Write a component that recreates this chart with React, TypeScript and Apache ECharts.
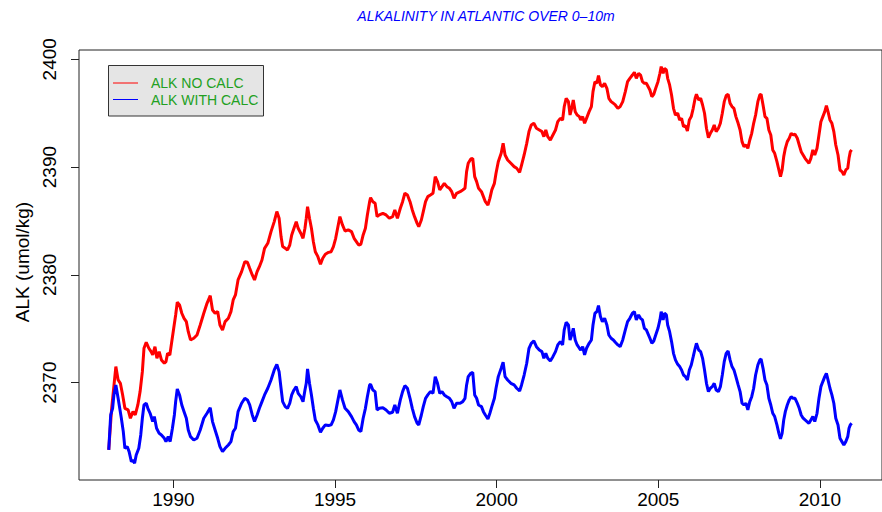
import React, { useEffect, useRef } from "react";
import * as echarts from "echarts";

const TITLE = "ALKALINITY IN ATLANTIC OVER 0–10m";
const Y_NAME = "ALK (umol/kg)";
const LEGEND_LABELS = ["ALK NO CALC", "ALK WITH CALC"];
const X_TICKS = [1990, 1995, 2000, 2005, 2010];
const Y_TICKS = [2370, 2380, 2390, 2400];

// [decimal year, ALK umol/kg]
const alkNoCalc: [number, number][] = [
  [1988.0, 2363.76], [1988.09, 2367.62], [1988.22, 2371.49], [1988.29, 2370.25], [1988.36, 2369.94],
  [1988.43, 2368.86], [1988.5, 2367.62], [1988.6, 2367.47], [1988.67, 2366.7], [1988.75, 2367.31],
  [1988.82, 2367.0], [1988.9, 2367.93], [1988.97, 2369.17], [1989.04, 2371.02], [1989.09, 2373.19],
  [1989.16, 2373.75], [1989.24, 2373.19], [1989.31, 2372.88], [1989.36, 2372.57], [1989.43, 2373.34],
  [1989.49, 2372.26], [1989.56, 2372.88], [1989.63, 2372.11], [1989.72, 2371.8], [1989.77, 2371.95],
  [1989.82, 2372.72], [1989.89, 2372.57], [1989.95, 2373.81], [1990.01, 2375.04], [1990.07, 2376.28],
  [1990.12, 2377.46], [1990.19, 2377.21], [1990.26, 2376.44], [1990.33, 2375.97], [1990.4, 2375.66],
  [1990.46, 2374.73], [1990.53, 2373.96], [1990.63, 2374.12], [1990.73, 2374.42], [1990.83, 2375.35],
  [1990.94, 2376.44], [1991.04, 2377.36], [1991.14, 2378.07], [1991.21, 2376.74], [1991.29, 2376.44],
  [1991.37, 2376.59], [1991.44, 2375.35], [1991.52, 2374.89], [1991.6, 2375.66], [1991.7, 2375.97],
  [1991.78, 2376.59], [1991.85, 2377.67], [1991.92, 2378.14], [1992.0, 2379.53], [1992.11, 2380.3],
  [1992.21, 2381.23], [1992.29, 2381.17], [1992.36, 2380.61], [1992.44, 2379.99], [1992.51, 2379.53],
  [1992.59, 2380.3], [1992.66, 2380.76], [1992.74, 2381.38], [1992.82, 2382.46], [1992.92, 2382.93],
  [1993.02, 2384.01], [1993.12, 2384.94], [1993.2, 2385.87], [1993.27, 2385.25], [1993.33, 2383.55],
  [1993.38, 2382.62], [1993.46, 2382.46], [1993.53, 2382.31], [1993.6, 2382.77], [1993.66, 2383.7],
  [1993.73, 2384.32], [1993.8, 2384.94], [1993.86, 2384.32], [1993.94, 2383.86], [1994.01, 2383.39],
  [1994.07, 2384.32], [1994.11, 2385.25], [1994.15, 2386.33], [1994.21, 2385.25], [1994.27, 2384.32],
  [1994.33, 2383.08], [1994.39, 2382.15], [1994.47, 2381.69], [1994.55, 2380.98], [1994.62, 2381.54],
  [1994.7, 2381.91], [1994.8, 2382.09], [1994.88, 2382.15], [1994.95, 2382.62], [1995.02, 2383.39],
  [1995.08, 2384.32], [1995.15, 2385.4], [1995.23, 2384.63], [1995.31, 2384.07], [1995.41, 2384.17],
  [1995.51, 2384.01], [1995.59, 2383.39], [1995.66, 2383.08], [1995.73, 2382.77], [1995.8, 2382.84],
  [1995.87, 2383.7], [1995.94, 2384.32], [1996.0, 2385.56], [1996.07, 2386.79], [1996.1, 2387.16],
  [1996.17, 2386.79], [1996.24, 2386.64], [1996.3, 2385.4], [1996.37, 2385.56], [1996.48, 2385.71],
  [1996.58, 2385.56], [1996.68, 2385.25], [1996.78, 2385.4], [1996.85, 2386.02], [1996.93, 2385.25],
  [1997.02, 2386.18], [1997.09, 2386.79], [1997.16, 2387.57], [1997.24, 2387.41], [1997.32, 2386.79],
  [1997.39, 2386.02], [1997.46, 2385.4], [1997.54, 2384.78], [1997.59, 2384.47], [1997.67, 2385.09],
  [1997.73, 2385.87], [1997.8, 2386.79], [1997.87, 2387.26], [1997.95, 2387.41], [1998.03, 2387.57],
  [1998.1, 2389.11], [1998.17, 2388.65], [1998.24, 2387.88], [1998.31, 2388.18], [1998.38, 2388.49],
  [1998.46, 2388.18], [1998.54, 2388.03], [1998.61, 2387.72], [1998.68, 2387.1], [1998.76, 2387.57],
  [1998.87, 2387.72], [1998.95, 2387.88], [1999.02, 2388.03], [1999.07, 2389.58], [1999.12, 2390.35],
  [1999.2, 2390.75], [1999.26, 2390.81], [1999.32, 2389.11], [1999.38, 2388.65], [1999.44, 2388.03],
  [1999.53, 2387.72], [1999.59, 2387.26], [1999.65, 2386.79], [1999.73, 2386.48], [1999.79, 2387.1],
  [1999.85, 2387.88], [1999.93, 2388.49], [1999.98, 2389.42], [2000.05, 2390.5], [2000.14, 2391.28],
  [2000.2, 2392.2], [2000.26, 2391.12], [2000.34, 2390.66], [2000.44, 2390.35], [2000.54, 2390.04],
  [2000.62, 2389.89], [2000.71, 2389.51], [2000.77, 2390.19], [2000.85, 2391.12], [2000.93, 2392.2],
  [2001.0, 2393.29], [2001.07, 2393.91], [2001.15, 2394.06], [2001.23, 2393.6], [2001.32, 2393.44],
  [2001.4, 2393.29], [2001.46, 2392.82], [2001.52, 2393.44], [2001.58, 2392.82], [2001.66, 2392.51],
  [2001.74, 2392.98], [2001.82, 2393.44], [2001.89, 2394.21], [2001.97, 2394.52], [2002.04, 2394.37],
  [2002.09, 2395.61], [2002.15, 2396.38], [2002.22, 2396.07], [2002.27, 2394.83], [2002.32, 2395.45],
  [2002.37, 2396.22], [2002.43, 2395.14], [2002.49, 2394.83], [2002.56, 2394.68], [2002.6, 2394.37],
  [2002.66, 2394.68], [2002.72, 2394.06], [2002.78, 2394.52], [2002.86, 2395.14], [2002.93, 2395.61],
  [2002.98, 2397.0], [2003.04, 2397.92], [2003.1, 2397.77], [2003.15, 2398.48], [2003.21, 2397.62],
  [2003.27, 2397.46], [2003.34, 2397.77], [2003.41, 2397.31], [2003.47, 2396.38], [2003.54, 2396.07],
  [2003.61, 2395.92], [2003.67, 2395.76], [2003.75, 2395.45], [2003.82, 2395.61], [2003.9, 2396.07],
  [2003.98, 2397.0], [2004.05, 2397.92], [2004.12, 2398.23], [2004.2, 2398.54], [2004.26, 2398.79],
  [2004.32, 2398.23], [2004.39, 2398.7], [2004.45, 2398.54], [2004.51, 2397.92], [2004.57, 2397.77],
  [2004.63, 2397.77], [2004.74, 2397.15], [2004.8, 2396.53], [2004.86, 2396.75], [2004.92, 2397.31],
  [2004.99, 2397.92], [2005.05, 2398.7], [2005.09, 2399.32], [2005.15, 2398.7], [2005.19, 2399.16],
  [2005.25, 2399.01], [2005.29, 2398.23], [2005.35, 2397.62], [2005.41, 2396.69], [2005.47, 2395.45],
  [2005.53, 2394.83], [2005.6, 2394.99], [2005.66, 2394.37], [2005.72, 2394.52], [2005.78, 2393.75],
  [2005.84, 2393.84], [2005.9, 2393.35], [2005.96, 2394.37], [2006.02, 2394.68], [2006.08, 2395.45],
  [2006.14, 2396.38], [2006.18, 2396.75], [2006.25, 2396.22], [2006.31, 2396.38], [2006.37, 2395.76],
  [2006.43, 2394.99], [2006.49, 2393.6], [2006.55, 2392.73], [2006.61, 2393.13], [2006.67, 2393.44],
  [2006.73, 2393.91], [2006.79, 2393.29], [2006.86, 2393.6], [2006.92, 2394.06], [2006.98, 2394.99],
  [2007.04, 2396.07], [2007.1, 2396.63], [2007.16, 2396.75], [2007.22, 2395.92], [2007.28, 2395.61],
  [2007.34, 2395.45], [2007.4, 2394.68], [2007.47, 2394.06], [2007.53, 2393.44], [2007.59, 2392.36],
  [2007.65, 2391.9], [2007.71, 2392.05], [2007.77, 2391.74], [2007.83, 2392.51], [2007.89, 2393.13],
  [2007.95, 2394.06], [2008.01, 2394.83], [2008.08, 2396.07], [2008.14, 2396.69], [2008.18, 2396.75],
  [2008.24, 2395.76], [2008.3, 2394.68], [2008.36, 2394.52], [2008.42, 2393.44], [2008.48, 2392.98],
  [2008.54, 2391.59], [2008.6, 2391.28], [2008.67, 2390.5], [2008.73, 2389.73], [2008.78, 2389.11],
  [2008.83, 2389.73], [2008.88, 2390.97], [2008.93, 2391.74], [2008.99, 2392.36], [2009.05, 2392.67],
  [2009.11, 2393.13], [2009.17, 2392.98], [2009.23, 2393.04], [2009.3, 2392.67], [2009.36, 2392.05],
  [2009.42, 2391.43], [2009.48, 2391.12], [2009.54, 2390.81], [2009.6, 2390.57], [2009.66, 2390.35],
  [2009.72, 2390.81], [2009.78, 2391.59], [2009.84, 2391.12], [2009.91, 2391.74], [2009.97, 2392.98],
  [2010.03, 2394.21], [2010.09, 2394.68], [2010.15, 2395.14], [2010.2, 2395.7], [2010.25, 2395.14],
  [2010.31, 2394.37], [2010.37, 2394.06], [2010.43, 2393.29], [2010.49, 2392.05], [2010.56, 2391.12],
  [2010.62, 2389.73], [2010.68, 2389.58], [2010.74, 2389.27], [2010.8, 2389.73], [2010.86, 2389.89],
  [2010.9, 2390.81], [2010.94, 2391.43], [2010.98, 2391.59],
];

const alkWithCalc: [number, number][] = [
  [1988.0, 2363.76], [1988.06, 2367.0], [1988.12, 2367.62], [1988.16, 2368.86], [1988.22, 2369.79],
  [1988.29, 2368.55], [1988.34, 2367.62], [1988.39, 2366.7], [1988.45, 2365.46], [1988.5, 2363.91],
  [1988.57, 2364.07], [1988.63, 2363.6], [1988.7, 2362.67], [1988.75, 2362.83], [1988.8, 2362.52],
  [1988.85, 2363.29], [1988.93, 2363.91], [1988.99, 2365.15], [1989.04, 2366.7], [1989.09, 2367.93],
  [1989.16, 2368.09], [1989.21, 2367.62], [1989.28, 2367.16], [1989.36, 2366.39], [1989.41, 2366.85],
  [1989.48, 2365.77], [1989.56, 2365.3], [1989.63, 2365.15], [1989.72, 2364.84], [1989.77, 2364.53],
  [1989.84, 2364.99], [1989.9, 2364.53], [1989.97, 2365.77], [1990.03, 2367.0], [1990.07, 2368.24],
  [1990.12, 2369.42], [1990.19, 2368.86], [1990.26, 2367.93], [1990.33, 2367.31], [1990.4, 2366.7],
  [1990.46, 2365.61], [1990.53, 2364.99], [1990.63, 2364.68], [1990.73, 2364.84], [1990.83, 2365.61],
  [1990.94, 2366.7], [1991.04, 2367.16], [1991.14, 2367.68], [1991.21, 2366.39], [1991.29, 2365.61],
  [1991.37, 2364.84], [1991.44, 2364.07], [1991.52, 2363.6], [1991.6, 2363.91], [1991.7, 2364.22],
  [1991.78, 2364.53], [1991.85, 2365.46], [1991.92, 2365.77], [1992.0, 2367.31], [1992.11, 2368.09],
  [1992.21, 2368.55], [1992.29, 2368.4], [1992.36, 2367.93], [1992.44, 2367.0], [1992.51, 2366.39],
  [1992.59, 2367.0], [1992.66, 2367.62], [1992.74, 2368.24], [1992.82, 2368.86], [1992.92, 2369.48],
  [1993.02, 2370.25], [1993.12, 2371.18], [1993.2, 2371.7], [1993.27, 2371.02], [1993.33, 2369.48],
  [1993.38, 2368.24], [1993.46, 2367.78], [1993.53, 2367.62], [1993.6, 2368.09], [1993.66, 2368.86],
  [1993.73, 2369.32], [1993.8, 2369.63], [1993.86, 2369.01], [1993.94, 2368.7], [1994.01, 2368.24],
  [1994.07, 2369.32], [1994.11, 2369.94], [1994.15, 2371.27], [1994.21, 2369.94], [1994.27, 2368.86],
  [1994.33, 2367.62], [1994.39, 2366.54], [1994.47, 2366.08], [1994.55, 2365.4], [1994.62, 2365.77],
  [1994.7, 2366.08], [1994.8, 2366.02], [1994.88, 2366.08], [1994.95, 2366.54], [1995.02, 2367.31],
  [1995.08, 2368.24], [1995.15, 2369.32], [1995.23, 2368.4], [1995.31, 2367.62], [1995.41, 2367.31],
  [1995.51, 2366.85], [1995.59, 2366.39], [1995.66, 2366.08], [1995.73, 2365.61], [1995.8, 2365.46],
  [1995.87, 2366.7], [1995.94, 2367.62], [1996.0, 2368.7], [1996.07, 2369.79], [1996.1, 2369.85],
  [1996.17, 2369.32], [1996.24, 2369.17], [1996.3, 2367.47], [1996.37, 2367.62], [1996.48, 2367.68],
  [1996.58, 2367.47], [1996.68, 2367.16], [1996.78, 2367.25], [1996.85, 2367.93], [1996.93, 2367.16],
  [1997.02, 2368.4], [1997.09, 2369.17], [1997.16, 2369.72], [1997.24, 2369.48], [1997.32, 2368.55],
  [1997.39, 2367.62], [1997.46, 2366.85], [1997.54, 2366.23], [1997.59, 2366.08], [1997.67, 2367.0],
  [1997.73, 2367.78], [1997.8, 2368.55], [1997.87, 2368.86], [1997.95, 2369.17], [1998.03, 2369.01],
  [1998.1, 2370.56], [1998.17, 2369.94], [1998.24, 2369.01], [1998.31, 2369.17], [1998.38, 2368.86],
  [1998.46, 2368.7], [1998.54, 2368.55], [1998.61, 2368.24], [1998.68, 2367.62], [1998.76, 2368.09],
  [1998.87, 2368.09], [1998.95, 2368.24], [1999.02, 2368.55], [1999.07, 2369.79], [1999.12, 2370.56],
  [1999.2, 2370.87], [1999.26, 2370.96], [1999.32, 2368.86], [1999.38, 2368.55], [1999.44, 2367.93],
  [1999.53, 2367.78], [1999.59, 2367.31], [1999.65, 2367.0], [1999.73, 2366.63], [1999.79, 2367.16],
  [1999.85, 2367.78], [1999.93, 2368.55], [1999.98, 2369.48], [2000.05, 2370.56], [2000.14, 2371.33],
  [2000.2, 2371.89], [2000.26, 2370.56], [2000.34, 2370.25], [2000.44, 2369.94], [2000.54, 2369.79],
  [2000.62, 2369.48], [2000.71, 2369.23], [2000.77, 2369.79], [2000.85, 2370.71], [2000.93, 2371.8],
  [2001.0, 2373.19], [2001.07, 2373.65], [2001.15, 2373.87], [2001.23, 2373.34], [2001.32, 2373.03],
  [2001.4, 2372.88], [2001.46, 2372.26], [2001.52, 2372.72], [2001.58, 2372.26], [2001.66, 2372.01],
  [2001.74, 2372.41], [2001.82, 2372.88], [2001.89, 2373.5], [2001.97, 2373.81], [2002.04, 2373.5],
  [2002.09, 2374.89], [2002.15, 2375.6], [2002.22, 2375.35], [2002.27, 2373.96], [2002.32, 2374.42],
  [2002.37, 2375.04], [2002.43, 2373.96], [2002.49, 2373.5], [2002.56, 2373.19], [2002.6, 2373.03],
  [2002.66, 2373.34], [2002.72, 2372.57], [2002.78, 2373.19], [2002.86, 2373.65], [2002.93, 2373.96],
  [2002.98, 2375.35], [2003.04, 2376.44], [2003.1, 2376.59], [2003.15, 2377.15], [2003.21, 2376.13],
  [2003.27, 2375.66], [2003.34, 2375.97], [2003.41, 2375.35], [2003.47, 2374.42], [2003.54, 2374.12],
  [2003.61, 2373.96], [2003.67, 2373.75], [2003.75, 2373.5], [2003.82, 2373.34], [2003.9, 2373.96],
  [2003.98, 2374.89], [2004.05, 2375.66], [2004.12, 2375.97], [2004.2, 2376.44], [2004.26, 2376.59],
  [2004.32, 2375.82], [2004.39, 2376.28], [2004.45, 2375.97], [2004.51, 2375.82], [2004.57, 2375.04],
  [2004.63, 2374.89], [2004.74, 2374.12], [2004.8, 2373.65], [2004.86, 2373.87], [2004.92, 2374.42],
  [2004.99, 2375.04], [2005.05, 2375.82], [2005.09, 2376.59], [2005.15, 2375.82], [2005.19, 2376.44],
  [2005.25, 2376.28], [2005.29, 2375.35], [2005.35, 2374.73], [2005.41, 2373.81], [2005.47, 2372.72],
  [2005.53, 2372.11], [2005.6, 2371.7], [2005.66, 2371.49], [2005.72, 2371.18], [2005.78, 2370.71],
  [2005.84, 2370.56], [2005.9, 2370.25], [2005.96, 2371.18], [2006.02, 2371.64], [2006.08, 2372.41],
  [2006.14, 2373.19], [2006.18, 2373.65], [2006.25, 2373.03], [2006.31, 2372.88], [2006.37, 2372.26],
  [2006.43, 2371.18], [2006.49, 2369.94], [2006.55, 2369.17], [2006.61, 2369.48], [2006.67, 2369.63],
  [2006.73, 2369.94], [2006.79, 2369.32], [2006.86, 2369.17], [2006.92, 2369.63], [2006.98, 2370.71],
  [2007.04, 2371.95], [2007.1, 2372.72], [2007.16, 2372.94], [2007.22, 2372.11], [2007.28, 2371.49],
  [2007.34, 2371.18], [2007.4, 2370.56], [2007.47, 2369.79], [2007.53, 2369.17], [2007.59, 2368.09],
  [2007.65, 2367.93], [2007.71, 2368.09], [2007.77, 2367.47], [2007.83, 2368.24], [2007.89, 2368.7],
  [2007.95, 2369.48], [2008.01, 2370.71], [2008.08, 2371.64], [2008.14, 2372.11], [2008.18, 2372.2],
  [2008.24, 2371.33], [2008.3, 2370.25], [2008.36, 2369.79], [2008.42, 2368.55], [2008.48, 2367.93],
  [2008.54, 2367.16], [2008.6, 2366.85], [2008.67, 2366.08], [2008.73, 2365.3], [2008.78, 2364.78],
  [2008.83, 2365.3], [2008.88, 2366.54], [2008.93, 2367.31], [2008.99, 2367.93], [2009.05, 2368.4],
  [2009.11, 2368.7], [2009.17, 2368.55], [2009.23, 2368.55], [2009.3, 2368.09], [2009.36, 2367.62],
  [2009.42, 2367.0], [2009.48, 2366.7], [2009.54, 2366.54], [2009.6, 2366.39], [2009.66, 2366.23],
  [2009.72, 2366.54], [2009.78, 2366.85], [2009.84, 2366.39], [2009.91, 2367.16], [2009.97, 2368.55],
  [2010.03, 2369.63], [2010.09, 2370.1], [2010.15, 2370.56], [2010.2, 2370.87], [2010.25, 2370.25],
  [2010.31, 2369.48], [2010.37, 2368.86], [2010.43, 2368.09], [2010.49, 2366.7], [2010.56, 2366.08],
  [2010.62, 2364.84], [2010.68, 2364.53], [2010.74, 2364.22], [2010.8, 2364.53], [2010.86, 2364.99],
  [2010.9, 2365.77], [2010.94, 2366.08], [2010.98, 2366.23],
];

const FONT = "'Liberation Sans', Arial, Helvetica, sans-serif";

export default function App() {
  const ref = useRef<HTMLDivElement>(null);
  useEffect(() => {
    const chart = echarts.init(ref.current!, null, { renderer: "svg" });
    chart.setOption({
      animation: false,
      backgroundColor: "#ffffff",
      grid: {
        left: 79,
        top: 50,
        right: -11,
        bottom: 32,
        show: true,
        borderColor: "#222",
        borderWidth: 1,
        backgroundColor: "transparent",
      },
      xAxis: {
        type: "value",
        min: 1987.08,
        max: 2011.92,
        axisLine: { show: false },
        splitLine: { show: false },
        axisTick: { show: true, length: 8, customValues: X_TICKS, lineStyle: { color: "#222" } },
        axisLabel: {
          customValues: X_TICKS,
          formatter: (v: number) => String(v),
          fontSize: 19,
          color: "#000",
          fontFamily: FONT,
          margin: 10,
        },
      },
      yAxis: {
        type: "value",
        min: 2360.97,
        max: 2400.86,
        axisLine: { show: false },
        splitLine: { show: false },
        axisTick: { show: true, length: 8, customValues: Y_TICKS, lineStyle: { color: "#222" } },
        axisLabel: {
          customValues: Y_TICKS,
          formatter: (v: number) => String(v),
          fontSize: 19,
          color: "#000",
          fontFamily: FONT,
          rotate: 90,
          margin: 20,
        },
      },
      series: [
        {
          name: LEGEND_LABELS[0],
          type: "line",
          data: alkNoCalc,
          showSymbol: false,
          lineStyle: { color: "#ff0000", width: 3 },
          itemStyle: { color: "#ff0000" },
          z: 3,
        },
        {
          name: LEGEND_LABELS[1],
          type: "line",
          data: alkWithCalc,
          showSymbol: false,
          lineStyle: { color: "#0000ff", width: 3 },
          itemStyle: { color: "#0000ff" },
          z: 3,
        },
      ],
      graphic: [
        {
          type: "text",
          x: 486,
          y: 16,
          style: {
            text: TITLE,
            fill: "#0000ff",
            font: `italic 14px ${FONT}`,
            textAlign: "center",
            textVerticalAlign: "middle",
          },
        },
        {
          type: "text",
          x: 22,
          y: 262,
          rotation: Math.PI / 2,
          style: {
            text: Y_NAME,
            fill: "#000",
            font: `19px ${FONT}`,
            textAlign: "center",
            textVerticalAlign: "middle",
          },
        },
        {
          type: "rect",
          shape: { x: 108.5, y: 65.5, width: 155, height: 50.5 },
          style: { fill: "#e5e5e5", stroke: "#333", lineWidth: 1 },
          z: 10,
        },
        {
          type: "line",
          shape: { x1: 113, y1: 83, x2: 138, y2: 83 },
          style: { stroke: "#ff0000", lineWidth: 1 },
          z: 11,
        },
        {
          type: "line",
          shape: { x1: 113, y1: 99.5, x2: 138, y2: 99.5 },
          style: { stroke: "#0000ff", lineWidth: 1 },
          z: 11,
        },
        {
          type: "text",
          x: 151,
          y: 83,
          z: 11,
          style: { text: LEGEND_LABELS[0], fill: "#22a022", font: `14px ${FONT}`, textVerticalAlign: "middle" },
        },
        {
          type: "text",
          x: 151,
          y: 99.5,
          z: 11,
          style: { text: LEGEND_LABELS[1], fill: "#22a022", font: `14px ${FONT}`, textVerticalAlign: "middle" },
        },
      ],
    });
    return () => chart.dispose();
  }, []);
  return (
    <div
      ref={ref}
      style={{ position: "absolute", left: 0, top: 0, width: 882, height: 512 }}
    />
  );
}
